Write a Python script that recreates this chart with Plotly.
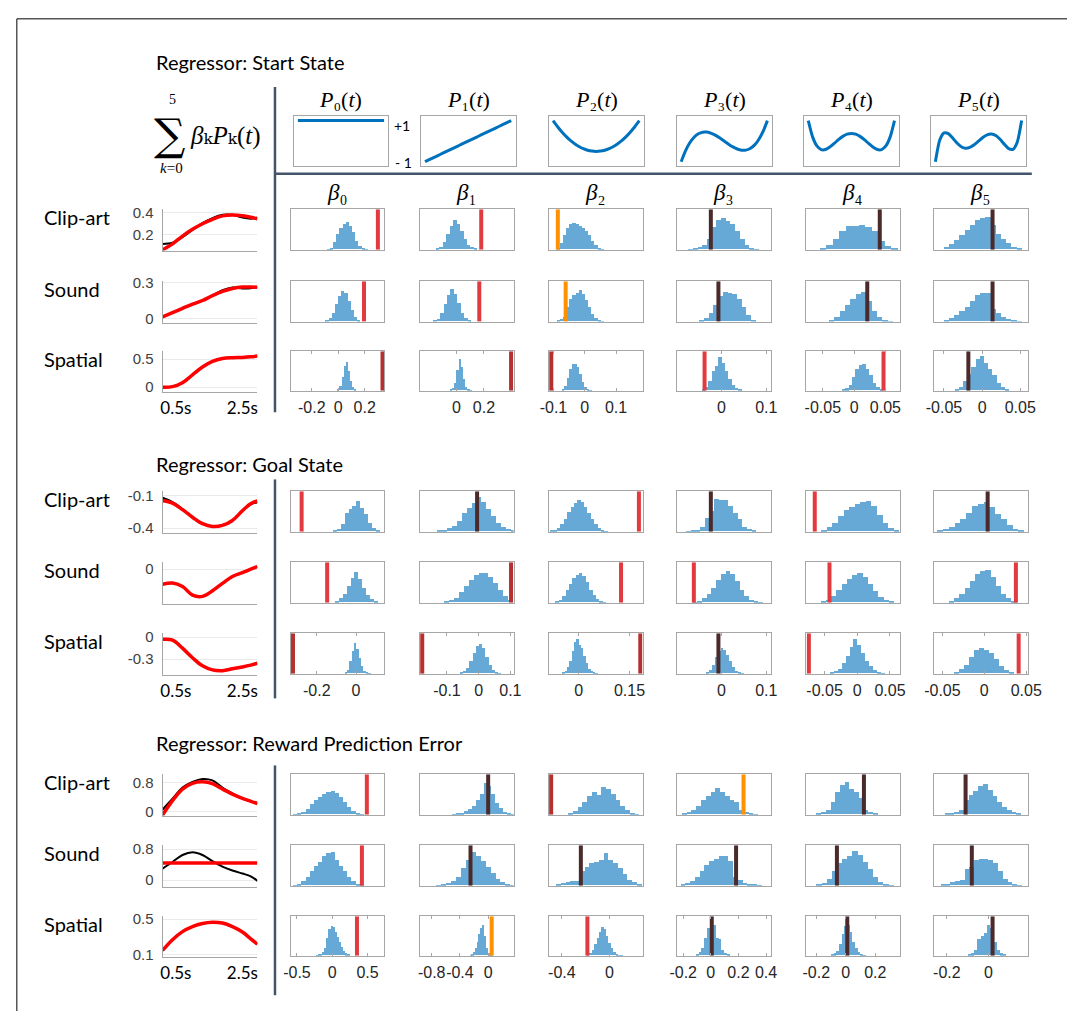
import plotly.graph_objects as go

W, H = 1081, 1017

# ---------------------------------------------------------------- data
SECTION_TITLES = ["Regressor: Start State", "Regressor: Goal State",
                  "Regressor: Reward Prediction Error"]
MODALITIES = ["Clip-art", "Sound", "Spatial"]
SUBSCRIPTS = ["₀", "₁", "₂", "₃", "₄", "₅"]

# time (s) samples of the left-hand response curves
T_SEC = [0.1, 0.4, 0.7, 1.0, 1.3, 1.6, 1.9, 2.2, 2.5, 2.75, 2.95]

START_FIT = [[0.066, 0.12, 0.19, 0.25, 0.30, 0.34, 0.37, 0.378, 0.372, 0.358, 0.343],
             [0.015, 0.05, 0.085, 0.12, 0.15, 0.19, 0.225, 0.25, 0.262, 0.262, 0.26],
             [0.0, 0.01, 0.08, 0.22, 0.36, 0.46, 0.51, 0.525, 0.53, 0.54, 0.555]]
START_OBS = [[0.12, 0.13, 0.18, 0.245, 0.305, 0.35, 0.38, 0.38, 0.355, 0.345, 0.355],
             [0.015, 0.05, 0.085, 0.12, 0.15, 0.19, 0.235, 0.258, 0.25, 0.252, 0.262],
             [0.0, 0.01, 0.08, 0.22, 0.36, 0.46, 0.51, 0.525, 0.53, 0.54, 0.555]]
GOAL_FIT = [[-0.145, -0.17, -0.23, -0.30, -0.36, -0.385, -0.375, -0.33, -0.24, -0.175, -0.15],
            [-0.175, -0.16, -0.2, -0.3, -0.315, -0.25, -0.165, -0.085, -0.04, 0.0, 0.03],
            [-0.03, -0.04, -0.15, -0.28, -0.39, -0.445, -0.455, -0.43, -0.405, -0.38, -0.355]]
GOAL_OBS = [[-0.12, -0.16, -0.225, -0.30, -0.36, -0.385, -0.375, -0.33, -0.24, -0.18, -0.165],
            [-0.175, -0.16, -0.2, -0.3, -0.315, -0.25, -0.165, -0.085, -0.04, 0.0, 0.03],
            [-0.03, -0.04, -0.15, -0.28, -0.39, -0.445, -0.455, -0.43, -0.405, -0.38, -0.355]]
RPE_FIT = [[-0.1, 0.3, 0.62, 0.78, 0.82, 0.77, 0.62, 0.48, 0.36, 0.28, 0.22],
           [0.44, 0.44, 0.44, 0.44, 0.44, 0.44, 0.44, 0.44, 0.44, 0.44, 0.44],
           [0.15, 0.27, 0.36, 0.415, 0.45, 0.465, 0.455, 0.415, 0.355, 0.28, 0.22]]
RPE_OBS = [[0.05, 0.35, 0.66, 0.82, 0.9, 0.86, 0.66, 0.5, 0.36, 0.28, 0.22],
           [0.3, 0.47, 0.65, 0.72, 0.65, 0.49, 0.35, 0.25, 0.17, 0.1, -0.02],
           [0.15, 0.27, 0.36, 0.415, 0.45, 0.465, 0.455, 0.415, 0.355, 0.28, 0.22]]

START_CURVE_YRANGE = [[0.06, 0.43], [-0.033, 0.31], [-0.08, 0.64]]
GOAL_CURVE_YRANGE = [[-0.443, -0.06], [-0.4, 0.08], [-0.51, 0.052]]
RPE_CURVE_YRANGE = [[-0.12, 1.03], [-0.17, 0.9], [0.08, 0.53]]
START_CURVE_YTICKS = [[0.2, 0.4], [0, 0.3], [0, 0.5]]
GOAL_CURVE_YTICKS = [[-0.4, -0.1], [0], [-0.3, 0]]
RPE_CURVE_YTICKS = [[0, 0.8], [0, 0.8], [0.1, 0.5]]
TIME_TICKS = [0.5, 2.5]
TIME_LABELS = ["0.5s", "2.5s"]

# Legendre basis panels
POLY_T = [-1.0, -0.9, -0.8, -0.7, -0.6, -0.5, -0.4, -0.3, -0.2, -0.1, 0.0,
          0.1, 0.2, 0.3, 0.4, 0.5, 0.6, 0.7, 0.8, 0.9, 1.0]
P0 = [1.0] * 21
P1 = [-1.0, -0.9, -0.8, -0.7, -0.6, -0.5, -0.4, -0.3, -0.2, -0.1, 0.0,
      0.1, 0.2, 0.3, 0.4, 0.5, 0.6, 0.7, 0.8, 0.9, 1.0]
P2 = [1, 0.715, 0.46, 0.235, 0.04, -0.125, -0.26, -0.365, -0.44, -0.485, -0.5,
      -0.485, -0.44, -0.365, -0.26, -0.125, 0.04, 0.235, 0.46, 0.715, 1]
P3 = [-1, -0.4725, -0.08, 0.1925, 0.36, 0.4375, 0.44, 0.3825, 0.28, 0.1475, 0,
      -0.1475, -0.28, -0.3825, -0.44, -0.4375, -0.36, -0.1925, 0.08, 0.4725, 1]
P4 = [1, 0.208, -0.233, -0.412, -0.408, -0.289, -0.113, 0.073, 0.232, 0.338, 0.375,
      0.338, 0.232, 0.073, -0.113, -0.289, -0.408, -0.412, -0.233, 0.208, 1]
P5 = [-1, 0.041, 0.4, 0.365, 0.153, -0.09, -0.271, -0.345, -0.308, -0.179, 0,
      0.179, 0.308, 0.345, 0.271, 0.09, -0.153, -0.365, -0.4, -0.041, 1]
POLYS = [P0, P1, P2, P3, P4, P5]

# permutation histograms: first bin edge, bin width, bin heights
START_LO = [[-0.09, -0.15, -0.09, -0.075, -0.055, -0.05],
            [-0.1, -0.17, -0.09, -0.05, -0.04, -0.05],
            [-0.01, -0.05, -0.075, -0.045, -0.02, -0.036]]
START_BW = [[0.024, 0.025, 0.01, 0.0105, 0.0104, 0.0068],
            [0.024, 0.025, 0.01, 0.0105, 0.0085, 0.0068],
            [0.016, 0.016, 0.008, 0.0075, 0.0055, 0.0055]]
START_COUNTS = [
    [[1, 3, 18, 38, 52, 64, 67, 58, 42, 22, 9, 3, 1],
     [2, 6, 18, 38, 58, 72, 62, 45, 25, 12, 5, 2],
     [3, 15, 35, 52, 62, 66, 63, 58, 52, 45, 35, 22, 10, 4, 1],
     [1, 2, 5, 12, 25, 55, 72, 78, 70, 62, 45, 25, 10, 4, 1],
     [3, 10, 25, 45, 58, 57, 61, 55, 45, 20, 8, 3],
     [5, 14, 24, 35, 48, 60, 72, 78, 80, 60, 37, 25, 15, 7, 2]],
    [[2, 8, 22, 42, 62, 76, 70, 50, 28, 10, 3],
     [2, 6, 20, 42, 65, 80, 68, 45, 22, 8, 3],
     [2, 5, 12, 35, 55, 65, 70, 77, 68, 52, 35, 18, 8, 3, 1],
     [2, 8, 20, 40, 62, 72, 70, 68, 55, 35, 15, 4],
     [3, 10, 25, 40, 55, 68, 72, 50, 25, 10, 4, 1],
     [3, 8, 15, 25, 35, 50, 66, 70, 70, 30, 22, 12, 5, 2, 1]],
    [[3, 12, 35, 62, 71, 50, 25, 8, 2],
     [2, 6, 20, 52, 79, 60, 30, 10, 4, 1],
     [3, 12, 32, 55, 66, 68, 60, 42, 22, 10, 4, 1],
     [2, 8, 25, 50, 62, 85, 70, 50, 30, 15, 6, 2],
     [2, 5, 15, 35, 55, 65, 67, 55, 38, 20, 8, 2],
     [3, 10, 25, 42, 60, 80, 88, 70, 55, 38, 20, 8, 2]]]
START_OBSERVED = [[0.30, 0.18, -0.086, -0.024, 0.041, 0.0137],
                  [0.195, 0.166, -0.061, -0.007, 0.021, 0.0137],
                  [0.335, 0.396, -0.107, -0.038, 0.047, -0.018]]
START_KIND = [["r", "r", "o", "k", "k", "k"],
              ["r", "r", "o", "k", "k", "k"],
              ["e", "e", "e", "r", "r", "k"]]

GOAL_LO = [[-0.12, -0.132, -0.085, -0.08, -0.055, -0.056],
           [-0.11, -0.11, -0.07, -0.065, -0.056, -0.042],
           [-0.06, -0.06, -0.05, -0.035, -0.042, -0.036]]
GOAL_BW = [[0.02, 0.0155, 0.01, 0.0105, 0.0085, 0.0069],
           [0.02, 0.0155, 0.01, 0.0105, 0.008, 0.0062],
           [0.012, 0.01, 0.007, 0.0065, 0.006, 0.006]]
GOAL_COUNTS = [
    [[2, 5, 18, 45, 55, 64, 76, 58, 42, 22, 9, 3],
     [2, 4, 8, 14, 25, 45, 58, 70, 85, 72, 55, 38, 20, 10, 5, 2],
     [2, 4, 8, 18, 32, 48, 60, 70, 78, 72, 60, 45, 30, 18, 8, 4, 1],
     [1, 2, 4, 10, 33, 50, 81, 78, 78, 63, 45, 31, 12, 6, 2],
     [3, 10, 22, 38, 52, 60, 68, 72, 76, 62, 40, 20, 8, 3],
     [2, 5, 10, 20, 32, 45, 62, 68, 72, 60, 42, 30, 15, 6, 2]],
    [[3, 10, 22, 40, 60, 75, 58, 35, 18, 8, 3],
     [2, 6, 12, 25, 40, 55, 68, 73, 72, 62, 48, 30, 15, 5],
     [2, 6, 15, 30, 45, 60, 68, 74, 65, 50, 32, 18, 8, 3, 1],
     [1, 4, 10, 20, 35, 55, 70, 77, 70, 52, 32, 15, 6, 3, 1],
     [2, 6, 15, 30, 45, 58, 68, 73, 62, 45, 28, 14, 5, 2],
     [3, 10, 20, 35, 52, 70, 78, 79, 62, 40, 22, 10, 3]],
    [[2, 8, 30, 55, 75, 60, 38, 18, 6, 2, 1],
     [2, 6, 14, 30, 50, 68, 73, 62, 40, 20, 8, 3, 1],
     [2, 6, 15, 30, 55, 78, 85, 70, 62, 42, 25, 12, 5, 2, 1],
     [2, 8, 20, 40, 55, 62, 58, 45, 30, 15, 6, 2, 1],
     [2, 5, 12, 25, 42, 65, 85, 70, 50, 32, 18, 8, 3, 1],
     [3, 10, 22, 40, 58, 62, 58, 50, 35, 18, 8, 2]]]
GOAL_OBSERVED = [[-0.277, -0.005, 0.178, -0.024, -0.065, 0.004],
                 [-0.147, 0.102, 0.125, -0.062, -0.0425, 0.0377],
                 [-0.321, -0.178, 0.182, -0.007, -0.074, 0.041]]
GOAL_KIND = [["r", "k", "r", "k", "r", "k"],
             ["r", "e", "r", "r", "r", "r"],
             ["e", "e", "e", "k", "r", "r"]]

RPE_LO = [[-0.56, -0.51, -0.35, -0.21, -0.2, -0.21],
          [-0.56, -0.74, -0.45, -0.22, -0.2, -0.23],
          [-0.24, -0.26, -0.19, -0.11, -0.1, -0.1]]
RPE_BW = [[0.059, 0.055, 0.04, 0.0345, 0.032, 0.023],
          [0.059, 0.07, 0.04, 0.0345, 0.035, 0.023],
          [0.03, 0.025, 0.02, 0.0207, 0.018, 0.0155]]
RPE_COUNTS = [
    [[1, 3, 7, 14, 25, 35, 42, 50, 55, 58, 52, 42, 30, 18, 8, 3, 1],
     [1, 2, 4, 8, 14, 22, 35, 50, 77, 70, 50, 28, 15, 7, 3, 1],
     [3, 8, 18, 30, 45, 55, 48, 67, 62, 50, 35, 20, 10, 4, 1],
     [2, 5, 10, 22, 35, 45, 55, 65, 55, 45, 35, 30, 10, 5, 2, 1],
     [2, 5, 12, 30, 55, 72, 79, 62, 55, 40, 12, 5, 2],
     [2, 3, 6, 10, 35, 48, 58, 70, 76, 60, 45, 32, 18, 10, 5, 2]],
    [[1, 4, 10, 22, 35, 48, 58, 72, 80, 82, 62, 48, 35, 22, 10, 4, 1],
     [1, 3, 6, 10, 22, 42, 62, 82, 72, 60, 45, 30, 15, 8, 3, 1],
     [3, 5, 8, 10, 12, 35, 45, 55, 58, 62, 80, 64, 55, 42, 28, 14, 8, 2],
     [3, 6, 12, 22, 35, 50, 60, 66, 72, 74, 60, 22, 14, 6, 2, 3, 1],
     [2, 6, 15, 35, 55, 65, 72, 86, 76, 58, 40, 20, 8, 3, 1],
     [2, 4, 9, 11, 14, 40, 45, 62, 65, 66, 64, 55, 35, 16, 8, 4, 1]],
    [[1, 2, 4, 8, 20, 45, 68, 75, 72, 60, 48, 35, 22, 12, 5, 2],
     [1, 3, 8, 18, 35, 55, 70, 77, 50, 20, 6, 2, 1],
     [2, 6, 15, 28, 45, 60, 73, 68, 50, 32, 18, 8, 3, 1, 1],
     [3, 8, 20, 45, 70, 81, 78, 45, 42, 15, 6, 2],
     [2, 5, 12, 30, 55, 75, 77, 60, 35, 18, 8, 3, 1],
     [2, 5, 15, 42, 50, 58, 77, 70, 35, 15, 5, 2]]]
RPE_OBSERVED = [[0.49, 0.0, -0.49, 0.237, 0.123, -0.11],
                [0.42, -0.25, -0.24, 0.183, -0.06, -0.08],
                [0.35, 0.05, -0.185, 0.007, 0.01, 0.02]]
RPE_KIND = [["r", "k", "e", "o", "k", "k"],
            ["r", "k", "k", "k", "k", "k"],
            ["r", "o", "r", "k", "k", "k"]]

START_XRANGE = [[-0.36, 0.35], [-0.265, 0.414], [-0.115, 0.185],
                [-0.1, 0.11], [-0.077, 0.073], [-0.063, 0.06]]
GOAL_XRANGE = [[-0.333, 0.145], [-0.186, 0.11], [-0.089, 0.189],
               [-0.1, 0.11], [-0.0785, 0.065], [-0.06, 0.052]]
RPE_XRANGE = [[-0.59, 0.74], [-0.97, 0.36], [-0.51, 0.28],
              [-0.246, 0.434], [-0.27, 0.366], [-0.262, 0.19]]
START_XTICKS = [[-0.2, 0, 0.2], [0, 0.2], [-0.1, 0, 0.1], [0, 0.1],
                [-0.05, 0, 0.05], [-0.05, 0, 0.05]]
GOAL_XTICKS = [[-0.2, 0], [-0.1, 0, 0.1], [0, 0.15], [0, 0.1],
               [-0.05, 0, 0.05], [-0.05, 0, 0.05]]
RPE_XTICKS = [[-0.5, 0, 0.5], [-0.8, -0.4, 0], [-0.4, 0], [-0.2, 0, 0.2, 0.4],
              [-0.2, 0, 0.2], [-0.2, 0]]

# ---------------------------------------------------------------- styling / geometry
MARK_COLORS = {"r": "#E23B3F", "k": "#4A2A2B", "o": "#FF9000", "e": "#B5302F"}
HIST_COLOR = "#66A9D7"
BOX_COLOR = "#A6A6A6"
DIVIDER = "#44546A"
TEXT_FONT = "Lato"
MATH_FONT = "Liberation Serif, DejaVu Serif"
TICK_FONT = dict(family="Liberation Sans", size=16, color="#262626")

COL_X = [287, 419, 551, 682, 814, 945]
COL_W = 96
POLY_X = [290, 420, 551, 682, 812, 942]
POLY_W = 97
SECTION_ROWS = [[(204, 245), (277, 318), (348, 388)],
                [(490, 531), (562, 603), (634, 675)],
                [(777, 818), (849, 890), (921, 961)]]
SECTION_TITLE_Y = [55, 462, 745]
DIVIDER_SPANS = [(80, 410), (478, 700), (768, 1001)]
CURVE_X = (156, 253)


def X(p):
    return p / W


def Y(p):
    return 1 - p / H


def fmt(v):
    return f"{v:g}"


fig = go.Figure()
layout = dict(width=W, height=H, margin=dict(l=0, r=0, t=0, b=0),
              paper_bgcolor="white", plot_bgcolor="rgba(0,0,0,0)",
              showlegend=False, bargap=0, barmode="overlay")
annotations = []
shapes = []
counter = [0]


def new_axes(x0, x1, y0, y1, xa, ya):
    counter[0] += 1
    n = counter[0]
    s = "" if n == 1 else str(n)
    layout["xaxis" + s] = dict(domain=[X(x0), X(x1)], anchor="y" + s, **xa)
    layout["yaxis" + s] = dict(domain=[Y(y1), Y(y0)], anchor="x" + s, **ya)
    return "x" + s, "y" + s


def text(x, y, s, size, family=TEXT_FONT, xanchor="left", color="black"):
    annotations.append(dict(x=X(x), y=Y(y), xref="paper", yref="paper", text=s,
                            showarrow=False, xanchor=xanchor, yanchor="middle",
                            borderpad=0,
                            font=dict(family=family, size=size, color=color)))


# ---------------------------------------------------------------- basis panels
for k, poly in enumerate(POLYS):
    xr, yr = new_axes(POLY_X[k], POLY_X[k] + POLY_W, 110, 160,
                      dict(range=[-1.1, 1.1], showline=True, mirror=True, linecolor=BOX_COLOR,
                           showgrid=False, zeroline=False, showticklabels=False, ticks=""),
                      dict(range=[-1.2, 1.2], showline=True, mirror=True, linecolor=BOX_COLOR,
                           showgrid=False, zeroline=False, showticklabels=False, ticks=""))
    fig.add_trace(go.Scatter(x=POLY_T, y=poly, mode="lines", xaxis=xr, yaxis=yr,
                             line=dict(color="#0072BD", width=3, shape="spline", smoothing=0.6),
                             hoverinfo="skip"))
    text(POLY_X[k] + POLY_W / 2, 93, f"<i>P</i>{SUBSCRIPTS[k]}(<i>t</i>)", 22,
         family=MATH_FONT, xanchor="center")

text(392, 119, "+1", 14)
text(393, 157, "- 1", 14)

# formula
text(163, 128, "∑", 44, family="DejaVu Serif", xanchor="center")
text(166, 93, "5", 14, family=MATH_FONT, xanchor="center")
text(165, 162, "<i>k</i>=0", 15, family=MATH_FONT, xanchor="center")
text(183, 130, "<i>β</i>ₖ<i>P</i>ₖ(<i>t</i>)", 25, family=MATH_FONT)

# ---------------------------------------------------------------- sections
SECTIONS = [
    (START_FIT, START_OBS, START_CURVE_YRANGE, START_CURVE_YTICKS,
     START_LO, START_BW, START_COUNTS, START_OBSERVED, START_KIND, START_XRANGE, START_XTICKS),
    (GOAL_FIT, GOAL_OBS, GOAL_CURVE_YRANGE, GOAL_CURVE_YTICKS,
     GOAL_LO, GOAL_BW, GOAL_COUNTS, GOAL_OBSERVED, GOAL_KIND, GOAL_XRANGE, GOAL_XTICKS),
    (RPE_FIT, RPE_OBS, RPE_CURVE_YRANGE, RPE_CURVE_YTICKS,
     RPE_LO, RPE_BW, RPE_COUNTS, RPE_OBSERVED, RPE_KIND, RPE_XRANGE, RPE_XTICKS),
]

for s, (fit, obs, cyr, cyt, lo, bw, counts, observed, kind, xrng, xticks) in enumerate(SECTIONS):
    rows = SECTION_ROWS[s]
    text(148, SECTION_TITLE_Y[s], SECTION_TITLES[s], 20)
    d0, d1 = DIVIDER_SPANS[s]
    shapes.append(dict(type="line", xref="paper", yref="paper", x0=X(271), x1=X(271),
                       y0=Y(d0), y1=Y(d1), line=dict(color=DIVIDER, width=2.5)))
    for r in range(3):
        y0, y1 = rows[r]
        bottom = r == 2
        # row label
        text(34, y0 + 8, MODALITIES[r], 20)
        # response curves
        if bottom:
            xtick = dict(tickvals=TIME_TICKS, ticktext=TIME_LABELS, showticklabels=True,
                         ticklabelstandoff=1, tickangle=0,
                         tickfont=dict(family=TEXT_FONT, size=17, color="black"))
        else:
            xtick = dict(showticklabels=False)
        xr, yr = new_axes(CURVE_X[0], CURVE_X[1], y0, y1 + 1,
                          dict(range=[0.1, 2.95], showline=True, linecolor=BOX_COLOR,
                               showgrid=False, zeroline=False, ticks="", **xtick),
                          dict(range=cyr[r], showline=True, linecolor=BOX_COLOR,
                               showgrid=True, gridcolor="#EAEAEA", zeroline=False,
                               tickvals=cyt[r], ticktext=[fmt(v) for v in cyt[r]], ticks="",
                               ticklabelstandoff=5,
                               tickfont=dict(family="Liberation Sans", size=15, color="#404040")))
        fig.add_trace(go.Scatter(x=T_SEC, y=obs[r], mode="lines", xaxis=xr, yaxis=yr,
                                 line=dict(color="black", width=2, shape="spline"),
                                 hoverinfo="skip"))
        fig.add_trace(go.Scatter(x=T_SEC, y=fit[r], mode="lines", xaxis=xr, yaxis=yr,
                                 line=dict(color="#FF0000", width=3.5, shape="spline"),
                                 hoverinfo="skip"))
        # histograms
        for c in range(6):
            if bottom:
                htick = dict(ticks="inside", ticklen=3, tickcolor=BOX_COLOR,
                             tickvals=xticks[c], ticktext=[fmt(v) for v in xticks[c]],
                             showticklabels=True, ticklabelstandoff=2, tickangle=0,
                             tickfont=TICK_FONT)
            else:
                htick = dict(ticks="", showticklabels=False)
            xr, yr = new_axes(COL_X[c], COL_X[c] + COL_W, y0, y1,
                              dict(range=xrng[c], showline=True, mirror="ticks",
                                   linecolor=BOX_COLOR, linewidth=1,
                                   showgrid=False, zeroline=False, **htick),
                              dict(range=[0, 100], showline=True, mirror=True,
                                   linecolor=BOX_COLOR, linewidth=1, showgrid=False,
                                   zeroline=False, showticklabels=False, ticks=""))
            h = counts[r][c]
            centers = [lo[r][c] + (i + 0.5) * bw[r][c] for i in range(len(h))]
            fig.add_trace(go.Bar(x=centers, y=h, width=[bw[r][c]] * len(h),
                                 xaxis=xr, yaxis=yr,
                                 marker=dict(color=HIST_COLOR, line=dict(width=0)),
                                 hoverinfo="skip"))
            v = observed[r][c]
            fig.add_trace(go.Scatter(x=[v, v], y=[0, 100], mode="lines", xaxis=xr, yaxis=yr,
                                     line=dict(color=MARK_COLORS[kind[r][c]], width=4),
                                     hoverinfo="skip"))
            if s == 0 and r == 0:
                text(COL_X[c] + COL_W / 2, 187, f"<i>β</i>{SUBSCRIPTS[c]}", 23,
                     family=MATH_FONT, xanchor="center")

# header divider and outer frame
shapes.append(dict(type="line", xref="paper", yref="paper", x0=X(272), x1=X(1045),
                   y0=Y(168), y1=Y(168), line=dict(color=DIVIDER, width=2.5)))
shapes.append(dict(type="line", xref="paper", yref="paper", x0=X(7), x1=X(1081),
                   y0=Y(11), y1=Y(11), line=dict(color="black", width=1)))
shapes.append(dict(type="line", xref="paper", yref="paper", x0=X(7), x1=X(7),
                   y0=Y(11), y1=Y(1017), line=dict(color="black", width=1)))

layout["annotations"] = annotations
layout["shapes"] = shapes
fig.update_layout(**layout)
fig.write_html("out.html")
